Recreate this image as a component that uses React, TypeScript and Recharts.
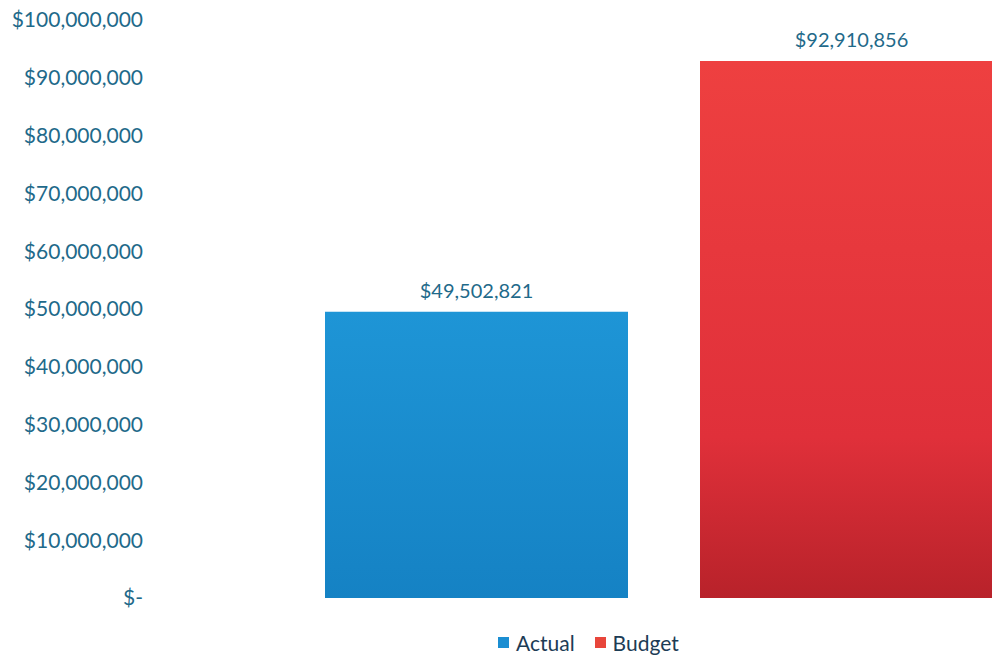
import { Bar, BarChart, LabelList, Legend, XAxis, YAxis } from "recharts";

const categories = [""];
const actualValues = [49502821];
const budgetValues = [92910856];
const yTicks = [0, 10000000, 20000000, 30000000, 40000000, 50000000, 60000000, 70000000, 80000000, 90000000, 100000000];

const data = categories.map((name, i) => ({
  name,
  Actual: actualValues[i],
  Budget: budgetValues[i]
}));

const fmtMoney = (v: number) => (v === 0 ? "$-" : "$" + v.toLocaleString("en-US"));

const textColor = "#1f6a8a";
const font = "Lato, 'Open Sans', sans-serif";

function LegendBox({ payload }: any) {
  return (
    <div style={{ display: "flex", alignItems: "center", fontFamily: font, fontSize: 21, color: "#1d3c55", height: 28 }}>
      {(payload || []).map((p: any) => (
        <div key={p.value} style={{ display: "flex", alignItems: "center", marginRight: 20 }}>
          <span style={{ width: 11, height: 11, background: p.value === "Actual" ? "#1b8ed2" : "#e8463b", marginRight: 7 }} />
          <span>{p.value}</span>
        </div>
      ))}
    </div>
  );
}

export default function App() {
  return (
    <div style={{ position: "absolute", left: 0, top: 0, width: 992, height: 658, overflow: "hidden", background: "#fff" }}>
      <BarChart
        width={1176}
        height={658}
        data={data}
        margin={{ top: 20, right: 0, bottom: 32, left: 0 }}
        barSize={303}
        barGap={72}
      >
        <defs>
          <linearGradient id="redGrad" x1="0" y1="0" x2="0" y2="1">
            <stop offset="0%" stopColor="#ee4040" />
            <stop offset="70%" stopColor="#e0303a" />
            <stop offset="100%" stopColor="#b8222a" />
          </linearGradient>
          <linearGradient id="blueGrad" x1="0" y1="0" x2="0" y2="1">
            <stop offset="0%" stopColor="#1e95d6" />
            <stop offset="100%" stopColor="#1582c4" />
          </linearGradient>
        </defs>
        <XAxis dataKey="name" hide />
        <YAxis
          width={152}
          domain={[0, 100000000]}
          ticks={yTicks}
          tickFormatter={fmtMoney}
          axisLine={false}
          tickLine={false}
          tickSize={0}
          tickMargin={9}
          interval={0}
          tick={{ fill: textColor, fontSize: 21, fontFamily: font }}
        />
        <Legend
          verticalAlign="bottom"
          content={<LegendBox />}
          wrapperStyle={{ left: 498, width: 260, bottom: 2 }}
        />
        <Bar dataKey="Actual" fill="url(#blueGrad)" isAnimationActive={false}>
          <LabelList dataKey="Actual" position="top" offset={14} formatter={(v: any) => fmtMoney(Number(v))} fill={textColor} fontSize={20} fontFamily={font} />
        </Bar>
        <Bar dataKey="Budget" fill="url(#redGrad)" isAnimationActive={false}>
          <LabelList dataKey="Budget" position="top" offset={14} formatter={(v: any) => fmtMoney(Number(v))} fill={textColor} fontSize={20} fontFamily={font} />
        </Bar>
      </BarChart>
    </div>
  );
}
